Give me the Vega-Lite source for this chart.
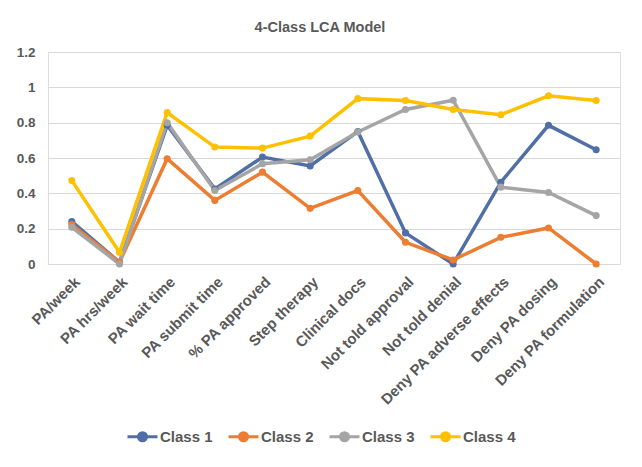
{
  "$schema": "https://vega.github.io/schema/vega-lite/v6.json",
  "width": 572,
  "height": 212,
  "autosize": "none",
  "padding": {"left": 48, "top": 52, "right": 22, "bottom": 203},
  "background": "white",
  "title": {"text": "4-Class LCA Model", "font": "Liberation Sans", "fontSize": 14.5, "fontWeight": "bold", "color": "#595959", "anchor": "middle", "dx": -14, "offset": 10},
  "data": {"values": [
    {"item": "PA/week", "cls": "Class 1", "value": 0.24},
    {"item": "PA hrs/week", "cls": "Class 1", "value": 0.01},
    {"item": "PA wait time", "cls": "Class 1", "value": 0.785},
    {"item": "PA submit time", "cls": "Class 1", "value": 0.425},
    {"item": "% PA approved", "cls": "Class 1", "value": 0.605},
    {"item": "Step therapy", "cls": "Class 1", "value": 0.555},
    {"item": "Clinical docs", "cls": "Class 1", "value": 0.75},
    {"item": "Not told approval", "cls": "Class 1", "value": 0.176},
    {"item": "Not told denial", "cls": "Class 1", "value": 0.0},
    {"item": "Deny PA adverse effects", "cls": "Class 1", "value": 0.463},
    {"item": "Deny PA dosing", "cls": "Class 1", "value": 0.785},
    {"item": "Deny PA formulation", "cls": "Class 1", "value": 0.647},
    {"item": "PA/week", "cls": "Class 2", "value": 0.223},
    {"item": "PA hrs/week", "cls": "Class 2", "value": 0.01},
    {"item": "PA wait time", "cls": "Class 2", "value": 0.596},
    {"item": "PA submit time", "cls": "Class 2", "value": 0.36},
    {"item": "% PA approved", "cls": "Class 2", "value": 0.52},
    {"item": "Step therapy", "cls": "Class 2", "value": 0.315},
    {"item": "Clinical docs", "cls": "Class 2", "value": 0.416},
    {"item": "Not told approval", "cls": "Class 2", "value": 0.123},
    {"item": "Not told denial", "cls": "Class 2", "value": 0.023},
    {"item": "Deny PA adverse effects", "cls": "Class 2", "value": 0.151},
    {"item": "Deny PA dosing", "cls": "Class 2", "value": 0.204},
    {"item": "Deny PA formulation", "cls": "Class 2", "value": 0.0},
    {"item": "PA/week", "cls": "Class 3", "value": 0.208},
    {"item": "PA hrs/week", "cls": "Class 3", "value": 0.0},
    {"item": "PA wait time", "cls": "Class 3", "value": 0.8},
    {"item": "PA submit time", "cls": "Class 3", "value": 0.416},
    {"item": "% PA approved", "cls": "Class 3", "value": 0.567},
    {"item": "Step therapy", "cls": "Class 3", "value": 0.59},
    {"item": "Clinical docs", "cls": "Class 3", "value": 0.747},
    {"item": "Not told approval", "cls": "Class 3", "value": 0.875},
    {"item": "Not told denial", "cls": "Class 3", "value": 0.927},
    {"item": "Deny PA adverse effects", "cls": "Class 3", "value": 0.435},
    {"item": "Deny PA dosing", "cls": "Class 3", "value": 0.405},
    {"item": "Deny PA formulation", "cls": "Class 3", "value": 0.274},
    {"item": "PA/week", "cls": "Class 4", "value": 0.472},
    {"item": "PA hrs/week", "cls": "Class 4", "value": 0.066},
    {"item": "PA wait time", "cls": "Class 4", "value": 0.857},
    {"item": "PA submit time", "cls": "Class 4", "value": 0.662},
    {"item": "% PA approved", "cls": "Class 4", "value": 0.656},
    {"item": "Step therapy", "cls": "Class 4", "value": 0.724},
    {"item": "Clinical docs", "cls": "Class 4", "value": 0.936},
    {"item": "Not told approval", "cls": "Class 4", "value": 0.925},
    {"item": "Not told denial", "cls": "Class 4", "value": 0.875},
    {"item": "Deny PA adverse effects", "cls": "Class 4", "value": 0.845},
    {"item": "Deny PA dosing", "cls": "Class 4", "value": 0.952},
    {"item": "Deny PA formulation", "cls": "Class 4", "value": 0.925}
  ]},
  "encoding": {
    "x": {
      "field": "item", "type": "nominal",
      "sort": ["PA/week", "PA hrs/week", "PA wait time", "PA submit time", "% PA approved", "Step therapy", "Clinical docs", "Not told approval", "Not told denial", "Deny PA adverse effects", "Deny PA dosing", "Deny PA formulation"],
      "scale": {"type": "point", "padding": 0.5},
      "axis": {"title": null, "labelAngle": -45, "labelFont": "Liberation Sans", "labelFontSize": 15, "labelFontWeight": "bold", "labelColor": "#595959", "ticks": false, "domainColor": "#d9d9d9", "grid": false, "labelPadding": 10}
    },
    "y": {
      "field": "value", "type": "quantitative",
      "scale": {"domain": [0, 1.2], "nice": false},
      "axis": {"title": null, "values": [0, 0.2, 0.4, 0.6, 0.8, 1, 1.2], "format": "~g", "labelFont": "Liberation Sans", "labelFontSize": 13.5, "labelFontWeight": "bold", "labelColor": "#595959", "ticks": false, "domain": false, "gridColor": "#d9d9d9", "gridWidth": 1, "labelPadding": 13}
    },
    "color": {
      "field": "cls", "type": "nominal",
      "scale": {"domain": ["Class 1", "Class 2", "Class 3", "Class 4"], "range": ["#4f6fa6", "#ed7d31", "#a5a5a5", "#ffc000"]},
      "legend": {
        "title": null, "orient": "none", "legendX": 78, "legendY": 368, "direction": "horizontal", "columns": 4, "columnPadding": 9,
        "symbolType": "M-1,0H1M-0.27,0A0.27,0.27 0 1,0 0.27,0A0.27,0.27 0 1,0 -0.27,0Z",
        "symbolSize": 900, "symbolStrokeWidth": 3, "labelOffset": 1,
        "labelFont": "Liberation Sans", "labelFontSize": 15, "labelFontWeight": "bold", "labelColor": "#595959",
        "encode": {"symbols": {"update": {"fill": {"scale": "color", "field": "value"}, "stroke": {"scale": "color", "field": "value"}, "strokeWidth": {"value": 3}, "opacity": {"value": 1}}}}
      }
    }
  },
  "layer": [
    {"mark": {"type": "line", "strokeWidth": 3.5}},
    {"mark": {"type": "circle", "size": 50, "opacity": 1}}
  ]
}
